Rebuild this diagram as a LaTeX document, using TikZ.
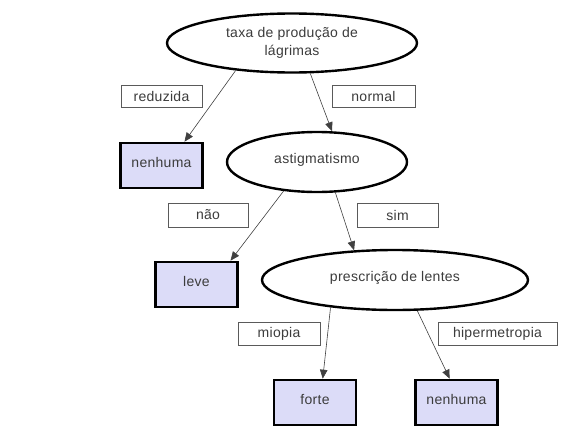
\documentclass[tikz,border=0pt]{standalone}
\usepackage{fontspec}
\setmainfont[LetterSpace=2]{Liberation Sans}
\usetikzlibrary{arrows.meta,shapes.geometric}
\definecolor{leaf}{RGB}{220,220,248}
\definecolor{txt}{RGB}{60,60,60}
\definecolor{lbl}{RGB}{90,90,90}
\tikzset{
  every node/.style={font=\fontsize{14}{17}\selectfont, text=txt},
  attr/.style={ellipse, draw=black, line width=2.4pt, fill=white, inner sep=0pt},
  leafbox/.style={rectangle, draw=black, line width=2.6pt, fill=leaf, inner sep=0pt,
    minimum width=82pt, minimum height=45pt},
  edgelbl/.style={rectangle, draw=lbl, line width=0.8pt, fill=white, inner sep=0pt,
    minimum height=22pt},
  conn/.style={draw=black!75, line width=0.6pt, -{Triangle[length=9pt,width=7.5pt]}}
}
\begin{document}
\begin{tikzpicture}[x=1pt,y=-1pt]
\useasboundingbox (0,0) rectangle (568,434);
% attribute ellipses
\node[attr, minimum width=250pt, minimum height=59pt, align=center] (e1) at (292,43)
  {\raisebox{-2pt}{\parbox{160pt}{\centering\baselineskip=18pt taxa de produção de\\ lágrimas}}};
\node[attr, minimum width=180pt, minimum height=60pt] (e2) at (317,162) {\raisebox{7pt}{astigmatismo}};
\node[attr, minimum width=266pt, minimum height=60pt] (e3) at (395,280) {\raisebox{7pt}{prescrição de lentes}};
% leaves
\node[leafbox] (n1) at (161.5,165.5) {\raisebox{6pt}{nenhuma}};
\node[leafbox] (lv) at (196.5,284.5) {\raisebox{7pt}{leve}};
\node[leafbox] (fo) at (315,402.5) {\raisebox{6pt}{forte}};
\node[leafbox] (n2) at (456.5,402.5) {\raisebox{6pt}{nenhuma}};
% edge labels
\node[edgelbl, minimum width=81pt] (lred) at (161.5,96.5) {reduzida};
\node[edgelbl, minimum width=83pt] (lnor) at (373.5,96) {normal};
\node[edgelbl, minimum width=80pt, minimum height=24pt] (lnao) at (208,215) {não};
\node[edgelbl, minimum width=81pt, minimum height=24pt] (lsim) at (397.5,215) {sim};
\node[edgelbl, minimum width=82pt, minimum height=23pt] (lmio) at (279,333.5) {miopia};
\node[edgelbl, minimum width=119pt, minimum height=23pt] (lhip) at (497.5,333.5) {hipermetropia};
% connectors
\draw[conn] (e1.206) -- (n1.46);
\draw[conn] (e1.301.6) -- (e2.64.7);
\draw[conn] (e2.221.2) -- (lv.35.5);
\draw[conn] (e2.301.5) -- (e3.144.4);
\draw[conn] (e3.203.1) -- (fo.72.7);
\draw[conn] (e3.306.6) -- (n2.106.1);
\end{tikzpicture}
\end{document}
